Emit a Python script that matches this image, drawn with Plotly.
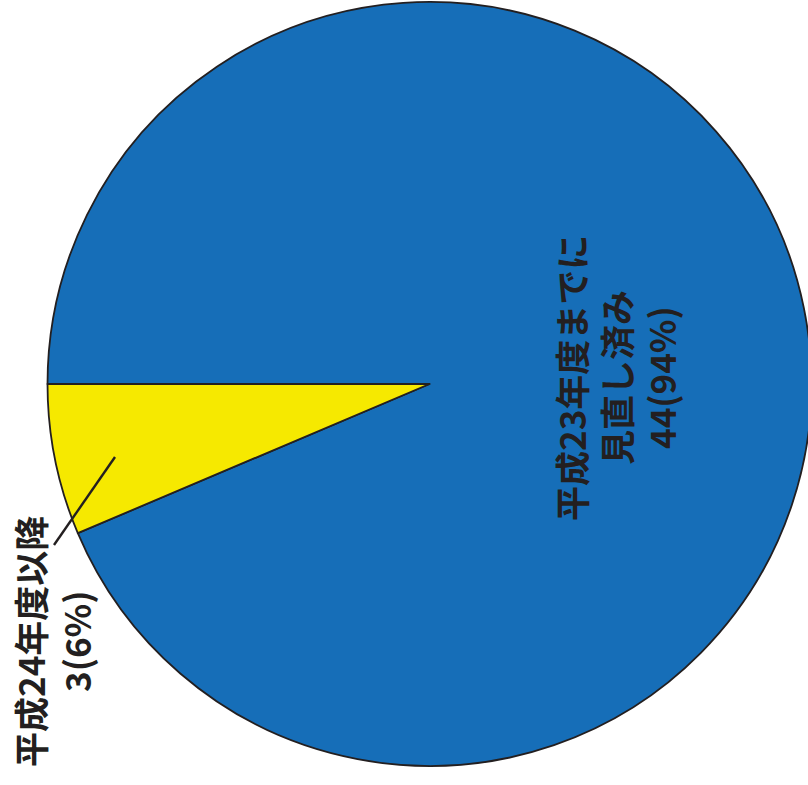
import plotly.graph_objects as go

# Data
labels = ["平成23年度までに見直し済み", "平成24年度以降"]
values = [44, 3]
colors = ["#166EB8", "#F6E900"]
big_lines = ["平成23年度までに", "見直し済み", "44(94%)"]
small_lines = ["平成24年度以降", "3(6%)"]

W, H = 816, 785
FONT = "Noto Sans CJK JP"
DARK = "#231F20"
FS = 35

def px(x):
    return x / W

def py(y):
    return 1 - y / H

fig = go.Figure(go.Pie(
    labels=labels,
    values=values,
    marker=dict(colors=colors, line=dict(color=DARK, width=1.8)),
    sort=False,
    direction="clockwise",
    rotation=270,
    textinfo="none",
    hoverinfo="label+value+percent",
    showlegend=False,
    domain=dict(x=[px(47.5), px(811.5)], y=[py(766), py(2)]),
))

font = dict(family=FONT, size=FS, color=DARK, weight=700)

# big label (one annotation per line to control spacing)
for i, t in enumerate(big_lines):
    fig.add_annotation(x=px(570 + 45 * i), y=py(378), xref="paper", yref="paper",
                       text=t, showarrow=False, textangle=-90, font=font,
                       xanchor="center", yanchor="middle")
# small label
for i, t in enumerate(small_lines):
    fig.add_annotation(x=px(29 + 46 * i), y=py(642), xref="paper", yref="paper",
                       text=t, showarrow=False, textangle=-90, font=font,
                       xanchor="center", yanchor="middle")
# leader line
fig.add_shape(type="line", xref="paper", yref="paper",
              x0=px(115), y0=py(457), x1=px(54), y1=py(545),
              line=dict(color=DARK, width=2.4))

fig.update_layout(
    width=W, height=H,
    margin=dict(l=0, r=0, t=0, b=0),
    paper_bgcolor="white",
    plot_bgcolor="white",
    font=dict(family=FONT),
)

fig.write_html("out.html", config={"displayModeBar": False},
               post_script="document.body.style.margin='0';document.body.style.overflow='hidden';")
